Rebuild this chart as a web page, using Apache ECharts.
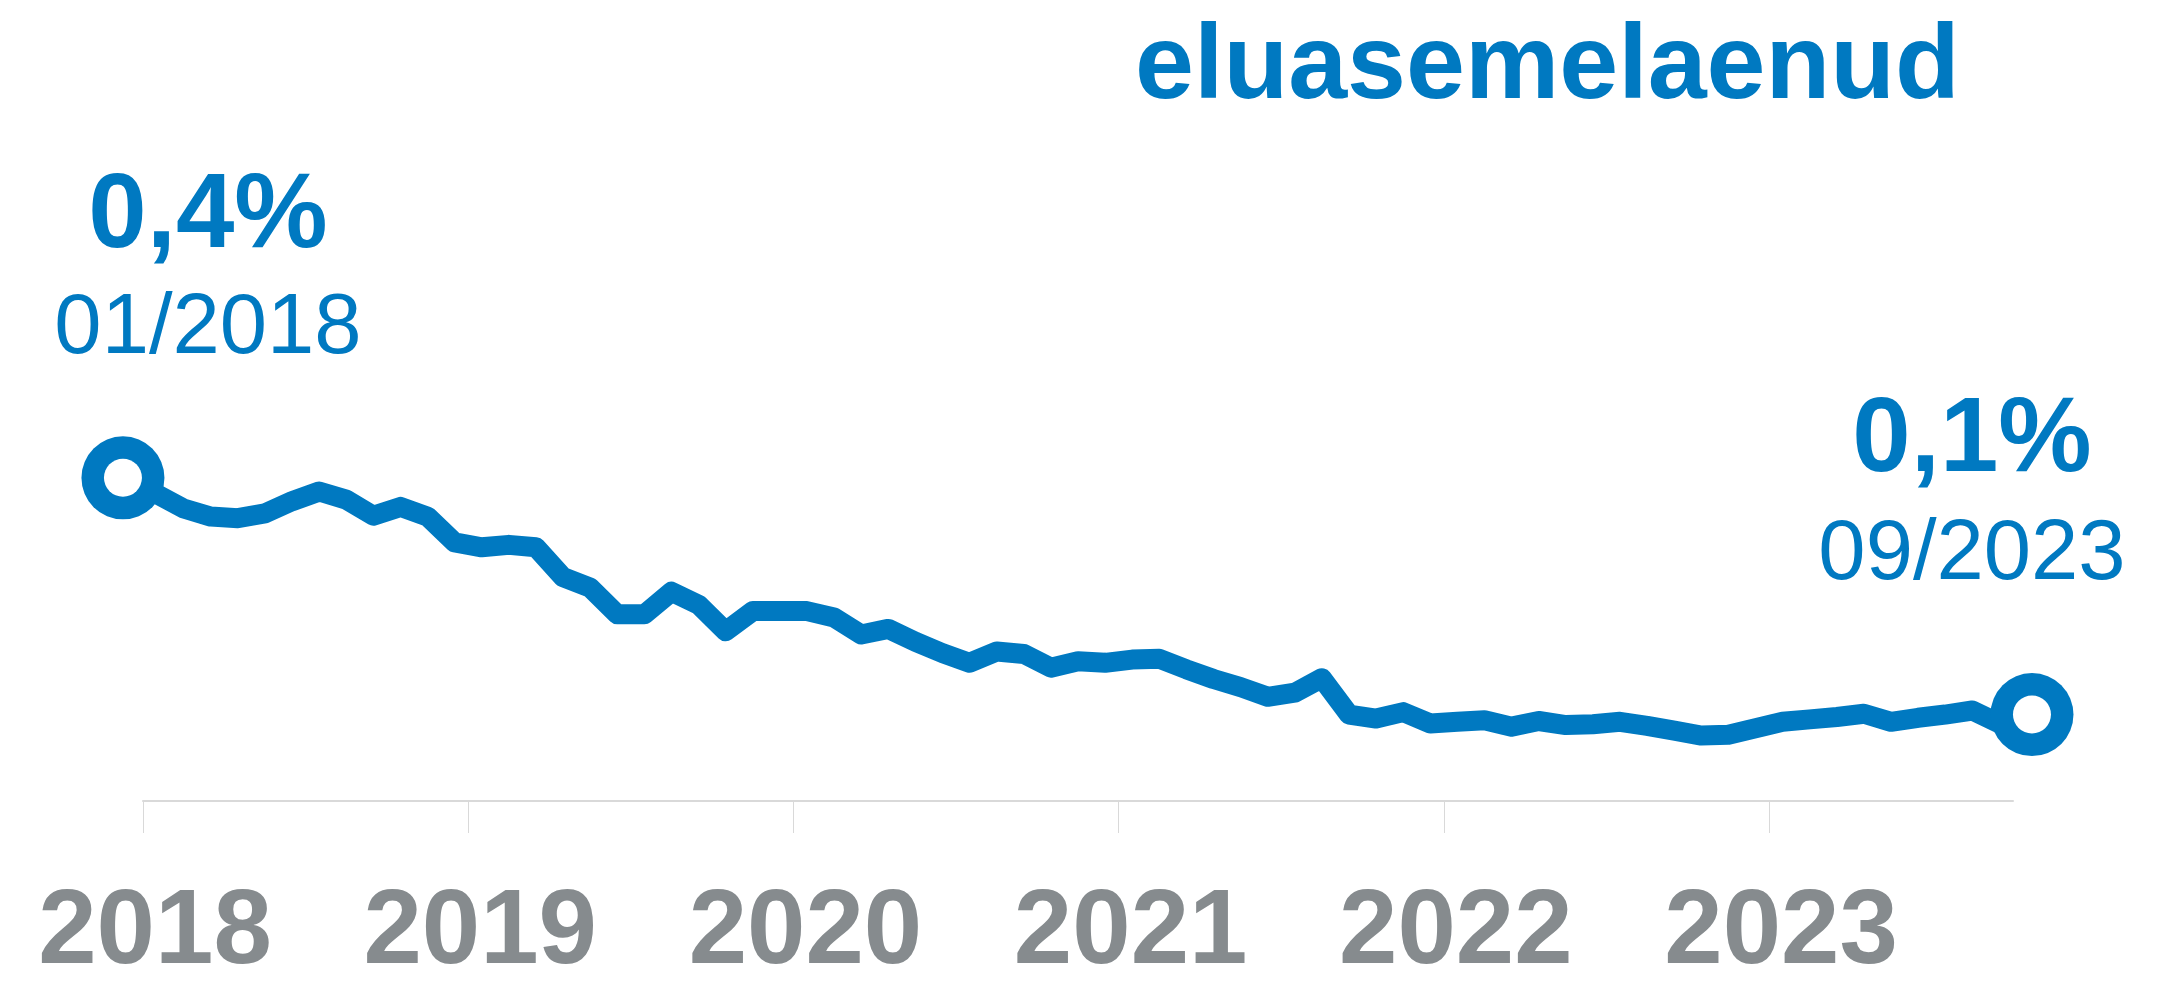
<!DOCTYPE html>
<html>
<head>
<meta charset="utf-8">
<title>eluasemelaenud</title>
<script src="https://cdn.jsdelivr.net/npm/echarts@6/dist/echarts.min.js"></script>
<style>
  html, body { margin: 0; padding: 0; background: #fff; }
  #chart { width: 2176px; height: 987px; }
</style>
</head>
<body>
<div id="chart"></div>
<script>
// monthly values, 01/2018 .. 09/2023 (percent)
var values = [
  0.380, 0.362, 0.352, 0.350, 0.356, 0.371, 0.383, 0.373, 0.353, 0.364, 0.352, 0.320,
  0.314, 0.317, 0.314, 0.277, 0.264, 0.231, 0.231, 0.259, 0.243, 0.210, 0.235, 0.235,
  0.235, 0.227, 0.206, 0.213, 0.197, 0.183, 0.171, 0.185, 0.182, 0.165, 0.173, 0.171,
  0.175, 0.176, 0.163, 0.151, 0.141, 0.129, 0.134, 0.152, 0.107, 0.102, 0.110, 0.096,
  0.098, 0.100, 0.092, 0.099, 0.094, 0.095, 0.098, 0.093, 0.087, 0.081, 0.082, 0.090,
  0.098, 0.101, 0.104, 0.108, 0.098, 0.103, 0.107, 0.112, 0.096
];
var firstDate = '01/2018';
var lastDate = '09/2023';
var years = ['2018', '2019', '2020', '2021', '2022', '2023'];
// end rings sit a little outside the first/last month (axis in months)
var ringMonths = [-0.74, 69.7];
var ringValues = [0.40, 0.107];

var blue = '#0079c1';
var grey = '#868b8e';

function pct(v) {
  return v.toFixed(1).replace('.', ',') + '%';
}

var lineData = values.map(function (v, i) { return [i + 0.5, v]; });
var ringData = ringMonths.map(function (m, i) { return [m, ringValues[i]]; });
var yearTicks = years.map(function (y, i) { return i * 12; });

var myChart = echarts.init(document.getElementById('chart'));
var option = {
  animation: false,
  title: {
    text: 'eluasemelaenud',
    left: 1135,
    top: 16,
    padding: 0,
    textStyle: {
      color: blue,
      fontSize: 106,
      fontWeight: 'bold',
      fontFamily: 'Liberation Sans'
    }
  },
  grid: {
    left: 143,
    right: 163,
    top: 397,
    bottom: 170
  },
  xAxis: {
    type: 'value',
    min: 0,
    max: 69,
    axisLine: { lineStyle: { color: '#d9d9d9', width: 2 } },
    axisTick: {
      customValues: yearTicks,
      length: 32,
      lineStyle: { color: '#d9d9d9', width: 1 }
    },
    axisLabel: {
      customValues: yearTicks,
      formatter: function (v) { return years[Math.round(v / 12)]; },
      margin: 81,
      padding: [0, 0, 0, 24],
      color: grey,
      fontSize: 105,
      fontWeight: 'bold',
      fontFamily: 'Liberation Sans'
    },
    splitLine: { show: false }
  },
  yAxis: {
    type: 'value',
    min: 0,
    max: 0.5,
    show: false
  },
  series: [
    {
      type: 'line',
      data: lineData,
      clip: false,
      showSymbol: false,
      lineStyle: { color: blue, width: 20, join: 'round' },
      z: 2
    },
    {
      // outer disc of the end rings
      type: 'scatter',
      data: ringData,
      clip: false,
      symbol: 'circle',
      symbolSize: 83,
      itemStyle: { color: blue, opacity: 1 },
      z: 3
    },
    {
      // white hole of the end rings
      type: 'scatter',
      data: ringData,
      clip: false,
      symbol: 'circle',
      symbolSize: 38,
      itemStyle: { color: '#fff', opacity: 1 },
      z: 4
    }
  ],
  graphic: [
    {
      type: 'text', x: 208, y: 218,
      style: { text: pct(values[0]), fill: blue, align: 'center', verticalAlign: 'middle',
        font: 'bold 105px "Liberation Sans"' }
    },
    {
      type: 'text', x: 208, y: 330,
      style: { text: firstDate, fill: blue, align: 'center', verticalAlign: 'middle',
        font: '85px "Liberation Sans"' }
    },
    {
      type: 'text', x: 1972, y: 442,
      style: { text: pct(values[values.length - 1]), fill: blue, align: 'center', verticalAlign: 'middle',
        font: 'bold 105px "Liberation Sans"' }
    },
    {
      type: 'text', x: 1972, y: 556,
      style: { text: lastDate, fill: blue, align: 'center', verticalAlign: 'middle',
        font: '85px "Liberation Sans"' }
    }
  ]
};
myChart.setOption(option);
window.addEventListener('resize', function () {
  myChart.resize();
});
</script>
</body>
</html>
